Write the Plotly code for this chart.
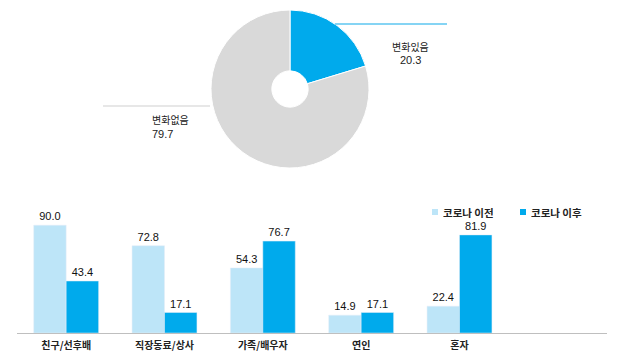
import plotly.graph_objects as go

# Pie data
pie_labels = ["변화있음", "변화없음"]
pie_values = [20.3, 79.7]

# Bar data
categories = ["친구/선후배", "직장동료/상사", "가족/배우자", "연인", "혼자"]
before = [90.0, 72.8, 54.3, 14.9, 22.4]
after = [43.4, 17.1, 76.7, 17.1, 81.9]
series_names = ["코로나 이전", "코로나 이후"]

FONT = "Noto Sans CJK KR"
NUMFONT = "Liberation Sans"
LIGHT = "#BDE5F8"
DARK = "#00AAEC"
GRAY = "#D9D9D9"

W, H = 620, 352

def px(x):
    return x / W

def py(y):
    return 1 - y / H

fig = go.Figure()

fig.add_trace(go.Pie(
    labels=pie_labels, values=pie_values, hole=0.23, sort=False,
    direction="clockwise", rotation=0, textinfo="none",
    marker=dict(colors=[DARK, GRAY], line=dict(color="white", width=1)),
    domain=dict(x=[px(211), px(369)], y=[py(168), py(10)]),
    showlegend=False,
))

colors = [LIGHT, DARK]
for name, vals, col in zip(series_names, [before, after], colors):
    fig.add_trace(go.Bar(
        x=list(range(len(categories))), y=vals, name=name,
        marker_color=col, text=[f"{v:.1f}" for v in vals],
        textposition="outside", textfont=dict(size=11, color="#111", family=NUMFONT),
        cliponaxis=False, showlegend=False,
    ))

# custom legend (small squares + text)
legend_pos = [(435, 442), (523, 530)]
for (mx, tx), name, col in zip(legend_pos, series_names, colors):
    fig.add_shape(type="rect", xref="paper", yref="paper",
                  x0=px(mx - 3), x1=px(mx + 3), y0=py(215), y1=py(209),
                  fillcolor=col, line=dict(width=0))
    fig.add_annotation(xref="paper", yref="paper", x=px(tx), y=py(212),
                       xanchor="left", yanchor="middle", showarrow=False,
                       text=f"<b>{name}</b>", borderpad=0, height=12,
                       font=dict(size=10.5, color="#222", family=FONT))

# leader lines and pie labels
fig.add_shape(type="line", xref="paper", yref="paper",
              x0=px(335), x1=px(447), y0=py(24), y1=py(24),
              line=dict(color="#5CC6F0", width=1.5))
fig.add_shape(type="line", xref="paper", yref="paper",
              x0=px(103), x1=px(210), y0=py(106), y1=py(106),
              line=dict(color="#D0D0D0", width=1.2))
fig.add_annotation(xref="paper", yref="paper", x=px(410), y=py(37),
                   text=pie_labels[0], showarrow=False,
                   font=dict(size=10, color="#222", family=FONT))
fig.add_annotation(xref="paper", yref="paper", x=px(410), y=py(52),
                   text=f"{pie_values[0]}", showarrow=False,
                   font=dict(size=11, color="#222", family=NUMFONT))
fig.add_annotation(xref="paper", yref="paper", x=px(150), y=py(119),
                   text=pie_labels[1], showarrow=False,
                   font=dict(size=10, color="#222", family=FONT))
fig.add_annotation(xref="paper", yref="paper", x=px(150), y=py(134),
                   text=f"{pie_values[1]}", showarrow=False,
                   font=dict(size=11, color="#222", family=NUMFONT))

fig.update_layout(
    width=W, height=H, margin=dict(l=0, r=0, t=0, b=0),
    paper_bgcolor="white", plot_bgcolor="white",
    font=dict(family=FONT, size=10, color="#222"),
    barmode="group", bargap=0.34, bargroupgap=0,
    showlegend=False,
    xaxis=dict(domain=[px(17), px(607)], range=[-0.5, 5.5],
               tickmode="array", tickvals=list(range(len(categories))),
               ticktext=[f"<b>{c}</b>" for c in categories],
               showline=True, linecolor="#BFBFBF", linewidth=1,
               showgrid=False, zeroline=False, ticks="", ticklabelstandoff=3,
               tickfont=dict(size=10, color="#222", family=FONT)),
    yaxis=dict(domain=[py(333), py(212)], range=[0, 101], visible=False),
)

fig.write_html("out.html")
